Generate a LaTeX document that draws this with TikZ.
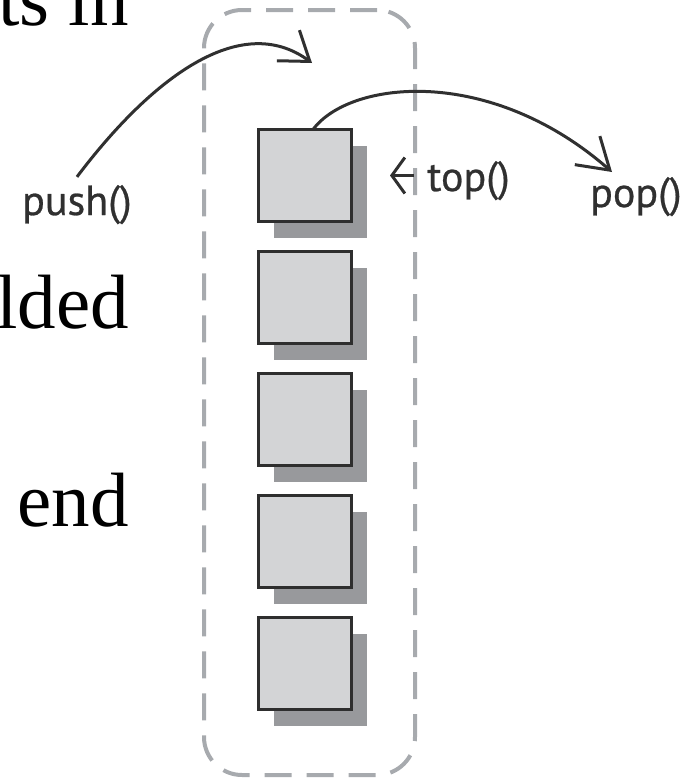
\documentclass[tikz,border=0pt]{standalone}
\usepackage{fontspec}
\setmainfont{Liberation Serif}
\newfontfamily\labelfont[FakeBold=0.6]{PT Sans}
\usetikzlibrary{arrows.meta,shadows}
\definecolor{framegray}{HTML}{A7AAAE}
\definecolor{cellfill}{HTML}{D3D4D6}
\definecolor{celledge}{HTML}{2E2E2E}
\definecolor{shadegray}{HTML}{98999C}
\definecolor{ink}{HTML}{303030}
\begin{document}
\begin{tikzpicture}[x=1pt,y=-1pt,
  cell/.style={draw=celledge, line width=3pt, fill=cellfill,
    minimum width=93pt, minimum height=92pt, inner sep=0pt, outer sep=0pt,
    drop shadow={shadow xshift=15pt, shadow yshift=-16pt, fill=shadegray, opacity=1}},
  stackframe/.style={draw=framegray, line width=4pt, dash pattern=on 27pt off 15pt,
    rounded corners=38pt, minimum width=211pt, minimum height=765pt,
    inner sep=0pt, outer sep=0pt},
  opname/.style={font=\labelfont\fontsize{42}{46}\selectfont, text=ink, inner sep=0pt},
  prose/.style={font=\fontsize{77}{80}\selectfont, text=black, inner sep=0pt},
  call/.style={draw=ink, line width=3pt},
  bigtip/.style={-{Straight Barb[length=#1, width=38pt]}},
  bigtip/.default=28pt
]
\useasboundingbox (0,0) rectangle (687,779);

% surrounding text of the page
\node[prose, anchor=base east] (line1) at (129,25) {ts in};
\node[prose, anchor=base east] (line2) at (129,328) {lded};
\node[prose, anchor=base east] (line3) at (129,526) {end};

% the stack container
\node[stackframe] (stack) at (309.5,392.5) {};

% stack elements, top first
\foreach \i in {1,...,5}
  \node[cell] (b\i) at (305,{175.5+122*(\i-1)}) {};

% operation labels
\node[opname, anchor=base west] (push) at (22,215) {push()};
\node[opname, anchor=base west] (top) at (427,191) {top()};
\node[opname, anchor=base west] (pop) at (590,207) {pop()};

% arrows of the operations
\coordinate (pushin) at (312,63);
\coordinate (popout) at (612,172);
\draw[call, bigtip=27pt] ([yshift=8pt]push.north) .. controls (150,80) and (240,10) .. (pushin);
\draw[call, bigtip=30pt] ([xshift=8pt]b1.north) .. controls (350,80) and (490,65) .. (popout);
\draw[call, -{Straight Barb[length=13pt, width=36pt]}]
  ([xshift=-13pt]top.west |- b1.east) -- ([xshift=38.5pt]b1.east);
\end{tikzpicture}
\end{document}
